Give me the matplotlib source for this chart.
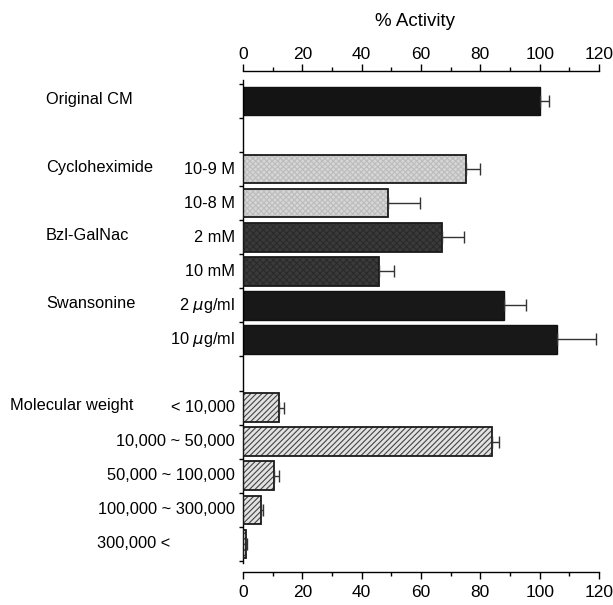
import numpy as np
import matplotlib
matplotlib.use("Agg")
import matplotlib.pyplot as plt
from matplotlib.transforms import blended_transform_factory

plt.rcParams['font.family'] = ['Liberation Sans', 'DejaVu Sans']
plt.rcParams['hatch.linewidth'] = 0.8

# bar slots (gaps between groups are empty slots)
bar_labels = ['', '10-9 M', '10-8 M', '2 mM', '10 mM', '2 $\\mu$g/ml', '10 $\\mu$g/ml',
              '< 10,000', '10,000 ~ 50,000', '50,000 ~ 100,000', '100,000 ~ 300,000', '300,000 <']
bar_slots = [0, 2, 3, 4, 5, 6, 7, 9, 10, 11, 12, 13]
activity = [100, 75, 49, 67, 46, 88, 106, 12, 84, 10.5, 6, 1]
errors = [3, 5, 10.5, 7.5, 5, 7.5, 13, 1.8, 2.2, 1.6, 0.8, 0.3]
bar_group = ['cm', 'cyc', 'cyc', 'bzl', 'bzl', 'swa', 'swa', 'mw', 'mw', 'mw', 'mw', 'mw']

group_names = ['Original CM', 'Cycloheximide', 'Bzl-GalNac', 'Swansonine', 'Molecular weight']
group_slots = [0, 2, 4, 6, 9]

x_ticks = [0, 20, 40, 60, 80, 100, 120]

styles = {
    'cm':  dict(face='#141414', hatch=None, hcol=None),
    'cyc': dict(face='#d6d6d6', hatch='xxxxxx', hcol='#bcbcbc'),
    'bzl': dict(face='#3a3a3a', hatch='xxxxx', hcol='#2a2a2a'),
    'swa': dict(face='#181818', hatch=None, hcol=None),
    'mw':  dict(face='#e2e2e2', hatch='//////', hcol='#444444'),
}

fig = plt.figure(figsize=(6.13, 6.05), dpi=100)
ax = fig.add_axes([0.3964, 0.07, 0.5808, 0.797])

for slot, val, err, g in zip(bar_slots, activity, errors, bar_group):
    st = styles[g]
    if st['hatch']:
        ax.barh(slot, val, height=0.84, color=st['face'], hatch=st['hatch'],
                edgecolor=st['hcol'], linewidth=0, zorder=2)
        ax.barh(slot, val, height=0.84, fill=False, edgecolor='#1a1a1a',
                linewidth=1.3, zorder=3)
    else:
        ax.barh(slot, val, height=0.84, color=st['face'], edgecolor='#111111',
                linewidth=1.0, zorder=2)
    ax.errorbar(val, slot, xerr=[[0], [err]], fmt='none', ecolor='#333333',
                elinewidth=1.0, capsize=4, capthick=1.0, zorder=4)

ax.set_xlim(0, 120)
ax.set_ylim(13.55, -0.6)

# bottom value axis, set off below the bars
ax.spines['right'].set_visible(False)
ax.spines['top'].set_visible(False)
ax.spines['bottom'].set_position(('outward', 7))
ax.spines['left'].set_linewidth(1.0)
ax.spines['bottom'].set_linewidth(1.0)
ax.set_xticks(x_ticks)
ax.set_xticks(np.arange(10, 120, 20), minor=True)
ax.tick_params(axis='x', which='both', direction='out', labelsize=12.5)
ax.tick_params(axis='x', which='major', length=5, width=1.0, pad=4)
ax.tick_params(axis='x', which='minor', length=3, width=1.0)

ax.set_yticks(np.arange(-0.5, 14, 1.0))
ax.tick_params(axis='y', which='major', length=3, width=1.0, direction='out',
               labelleft=False)

# top value axis, same scale
top = ax.twiny()
top.set_xlim(ax.get_xlim())
for side in ['left', 'right', 'bottom']:
    top.spines[side].set_visible(False)
top.spines['top'].set_position(('outward', 7))
top.spines['top'].set_linewidth(1.0)
top.set_xticks(x_ticks)
top.set_xticks(np.arange(10, 120, 20), minor=True)
top.tick_params(axis='x', which='both', direction='out', labelsize=12.5)
top.tick_params(axis='x', which='major', length=5, width=1.0, pad=1)
top.tick_params(axis='x', which='minor', length=3, width=1.0)

trans = blended_transform_factory(ax.transAxes, ax.transData)
for slot, lab in zip(bar_slots, bar_labels):
    if not lab:
        continue
    if lab == '300,000 <':
        ax.text(-0.41, slot, lab, transform=trans, ha='left', va='center', fontsize=11.8)
    else:
        ax.text(-0.0225, slot, lab, transform=trans, ha='right', va='center', fontsize=11.8)

for name, slot in zip(group_names, group_slots):
    xpos = -0.654 if name == 'Molecular weight' else -0.553
    ax.text(xpos, slot - 0.05, name, transform=trans, ha='left', va='center', fontsize=11.8)

fig.text(415 / 613, 1 - 22 / 605, '% Activity', ha='center', va='center', fontsize=13.5)

fig.savefig('out.png', dpi=100)
